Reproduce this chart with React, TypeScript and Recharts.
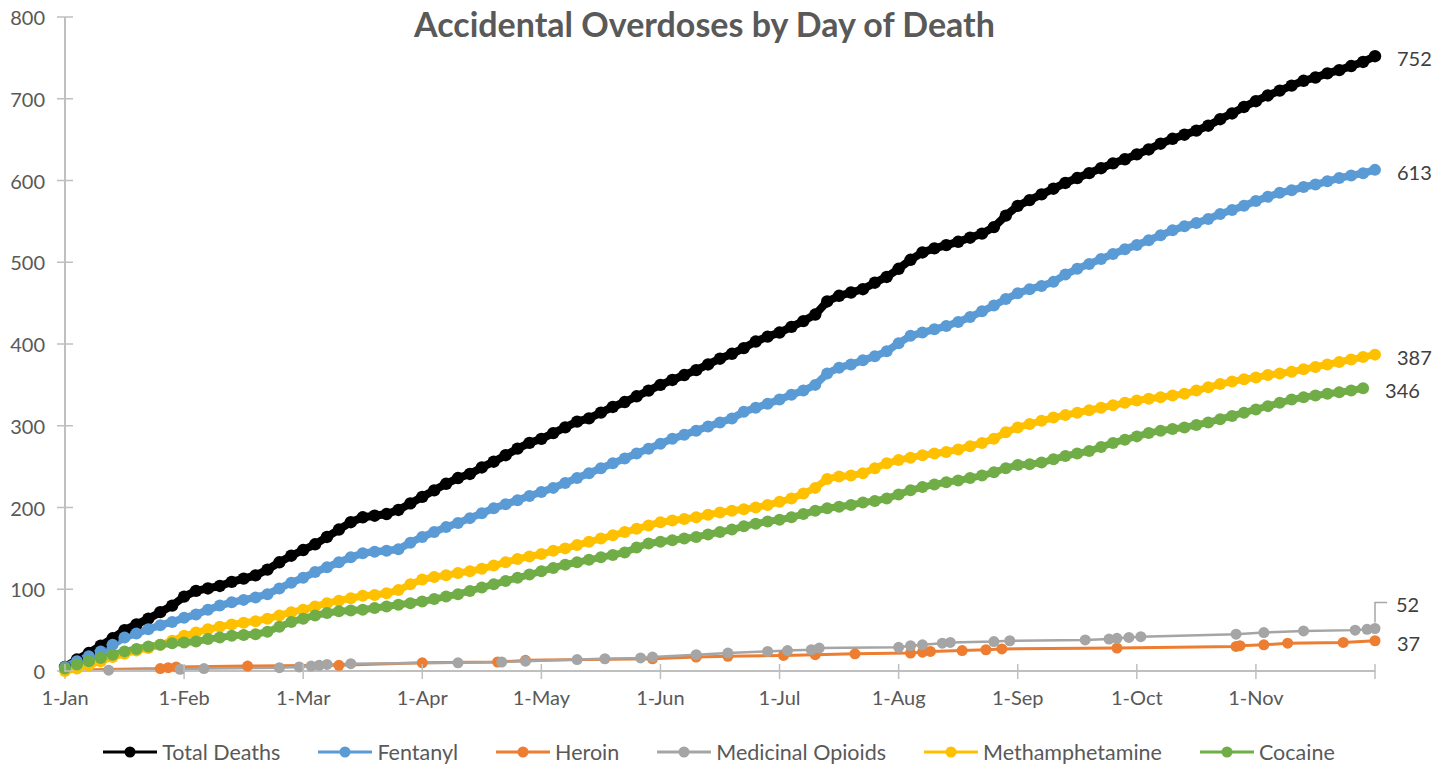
import { LineChart, Line, XAxis, YAxis } from 'recharts';

// Day index along the axis: each month spans 30 units (the axis ticks are evenly spaced).
const monthLabels = ['1-Jan', '1-Feb', '1-Mar', '1-Apr', '1-May', '1-Jun', '1-Jul', '1-Aug', '1-Sep', '1-Oct', '1-Nov', ''];
const monthTicks = [0, 30, 60, 90, 120, 150, 180, 210, 240, 270, 300, 330];
const yTicks = [0, 100, 200, 300, 400, 500, 600, 700, 800];

const sampleDays = [
  0, 3, 6, 9, 12, 15, 18, 21, 24, 27, 30, 33, 36, 39, 42, 45, 48, 51, 54, 57,
  60, 63, 66, 69, 72, 75, 78, 81, 84, 87, 90, 93, 96, 99, 102, 105, 108, 111, 114, 117,
  120, 123, 126, 129, 132, 135, 138, 141, 144, 147, 150, 153, 156, 159, 162, 165, 168, 171, 174, 177,
  180, 183, 186, 189, 192, 195, 198, 201, 204, 207, 210, 213, 216, 219, 222, 225, 228, 231, 234, 237,
  240, 243, 246, 249, 252, 255, 258, 261, 264, 267, 270, 273, 276, 279, 282, 285, 288, 291, 294, 297,
  300, 303, 306, 309, 312, 315, 318, 321, 324, 327, 330,
];

const totalDeaths = [
  5, 14, 22, 31, 40, 50, 57, 64, 72, 80, 91, 98, 101, 104, 109, 113, 117, 124, 133, 141,
  148, 155, 164, 173, 182, 188, 190, 192, 197, 205, 213, 221, 229, 236, 241, 249, 256, 264, 272, 279,
  284, 291, 298, 305, 309, 316, 323, 329, 336, 343, 350, 356, 362, 368, 375, 382, 388, 395, 403, 409,
  414, 421, 428, 436, 452, 459, 463, 467, 475, 482, 492, 503, 512, 517, 521, 525, 530, 535, 543, 557,
  569, 576, 583, 590, 597, 603, 609, 615, 621, 626, 632, 638, 645, 651, 656, 661, 667, 675, 682, 690,
  697, 704, 710, 716, 722, 726, 731, 735, 740, 745, 752,
];

const fentanyl = [
  5, 12, 18, 24, 32, 41, 46, 51, 56, 60, 65, 69, 75, 80, 84, 87, 90, 94, 101, 108,
  114, 121, 127, 133, 139, 144, 146, 147, 149, 157, 164, 170, 176, 181, 187, 193, 199, 204, 209, 214,
  219, 224, 230, 236, 242, 248, 254, 260, 266, 272, 278, 284, 289, 294, 299, 304, 309, 317, 322, 327,
  332, 338, 343, 350, 364, 371, 375, 380, 385, 391, 401, 410, 414, 418, 422, 427, 433, 440, 447, 455,
  462, 467, 471, 476, 485, 492, 498, 504, 510, 516, 521, 527, 533, 539, 544, 548, 553, 559, 564, 569,
  575, 580, 585, 588, 592, 595, 599, 603, 606, 609, 613,
];

const methamphetamine = [
  0, 3, 7, 12, 17, 21, 25, 28, 32, 37, 43, 47, 51, 54, 57, 59, 61, 64, 68, 72,
  75, 79, 83, 86, 89, 92, 93, 95, 99, 106, 112, 115, 117, 120, 122, 125, 129, 133, 137, 140,
  143, 147, 150, 154, 158, 162, 166, 170, 174, 178, 182, 184, 186, 188, 191, 194, 196, 198, 200, 203,
  207, 211, 217, 224, 235, 238, 239, 242, 248, 254, 258, 261, 264, 266, 268, 271, 275, 279, 284, 292,
  298, 302, 306, 310, 313, 316, 319, 322, 325, 328, 331, 333, 335, 337, 339, 343, 347, 351, 354, 357,
  359, 362, 364, 366, 369, 372, 375, 378, 381, 384, 387,
];

// last cocaine death falls a few days before the others
const cocaine = [
  3, 8, 12, 16, 20, 24, 27, 30, 32, 34, 35, 36, 39, 41, 43, 44, 45, 48, 54, 60,
  64, 68, 71, 73, 74, 75, 77, 79, 81, 83, 85, 88, 91, 94, 98, 102, 106, 110, 114, 118,
  122, 126, 130, 133, 136, 139, 142, 145, 151, 156, 158, 160, 162, 164, 167, 170, 173, 177, 180, 183,
  185, 188, 192, 196, 199, 201, 203, 206, 208, 211, 216, 221, 225, 228, 231, 233, 236, 239, 243, 248,
  252, 253, 255, 259, 263, 266, 269, 274, 279, 283, 287, 291, 294, 296, 298, 301, 304, 308, 312, 316,
  320, 324, 328, 332, 335, 337, 339, 341, 343, 346,
];

// sparse series: only days on which the count changed
const heroinDays = [0, 24, 26, 28, 46, 69, 90, 109, 116, 148, 159, 167, 181, 189, 199, 213, 216, 218, 226, 232, 236, 265, 295, 296, 302, 308, 322, 330];
const heroin = [1, 3, 4, 5, 6, 7, 10, 11, 13, 15, 17, 18, 19, 20, 21, 22, 23, 24, 25, 26, 27, 28, 30, 31, 32, 34, 35, 37];

const opioidDays = [11, 29, 35, 54, 59, 62, 64, 66, 72, 99, 110, 116, 129, 136, 145, 148, 159, 167, 177, 182, 188, 190, 210, 213, 216, 221, 223, 234, 238, 257, 263, 265, 268, 271, 295, 302, 312, 325, 328, 330];
const medicinalOpioids = [1, 2, 3, 4, 5, 6, 7, 8, 9, 10, 11, 12, 14, 15, 16, 17, 20, 22, 24, 25, 26, 28, 29, 31, 32, 34, 35, 36, 37, 38, 39, 40, 41, 42, 45, 47, 49, 50, 51, 52];

const FONT = 'Lato, "Open Sans", sans-serif';
const AXIS_GRAY = '#BFBFBF';
const TEXT_GRAY = '#595959';
const TICK = 8;
const TICK_GAP = 12;

const zip = (days: number[], vals: number[]) => vals.map((v, i) => ({ t: days[i], v }));

// dense series get a heavy stroke so the daily markers read as one band, like the original
const series = [
  { name: 'Total Deaths', color: '#000000', r: 6.2, w: 8, data: zip(sampleDays, totalDeaths) },
  { name: 'Fentanyl', color: '#5B9BD5', r: 6, w: 7.5, data: zip(sampleDays, fentanyl) },
  { name: 'Heroin', color: '#ED7D31', r: 5.5, w: 3, data: zip(heroinDays, heroin) },
  { name: 'Medicinal Opioids', color: '#A5A5A5', r: 5.5, w: 2.5, data: zip(opioidDays, medicinalOpioids) },
  { name: 'Methamphetamine', color: '#FFC000', r: 6, w: 7, data: zip(sampleDays, methamphetamine) },
  { name: 'Cocaine', color: '#70AD47', r: 6, w: 7, data: zip(sampleDays, cocaine) },
];

function YTick(props: any) {
  const { x, y, payload } = props;
  const axisX = x + TICK_GAP + TICK;
  return (
    <g>
      <line x1={axisX} x2={axisX + TICK} y1={y} y2={y} stroke={AXIS_GRAY} strokeWidth={1.5} />
      <text x={x} y={y} textAnchor="end" dominantBaseline="central" fill={TEXT_GRAY} fontSize={20} fontFamily={FONT}>
        {payload.value}
      </text>
    </g>
  );
}

function XTick(props: any) {
  const { x, y, index } = props;
  const axisY = y - TICK_GAP + 1 - TICK;
  return (
    <g>
      <line x1={x} x2={x} y1={axisY} y2={axisY - TICK} stroke={AXIS_GRAY} strokeWidth={1.5} />
      <text x={x} y={y} dy="0.71em" textAnchor="middle" fill={TEXT_GRAY} fontSize={20} fontFamily={FONT}>
        {monthLabels[index] ?? ''}
      </text>
    </g>
  );
}

function endLabel(lastIndex: number, leader = false) {
  return (props: any) => {
    const { x, y, index, value } = props;
    if (index !== lastIndex) return <g />;
    if (leader) {
      return (
        <g>
          <polyline points={`${x},${y - 6} ${x},${y - 26} ${x + 12},${y - 26}`} fill="none" stroke="#A6A6A6" strokeWidth={1.5} />
          <text x={x + 21} y={y - 24} dominantBaseline="central" fill="#404040" fontSize={20} fontFamily={FONT}>{value}</text>
        </g>
      );
    }
    return (
      <text x={x + 22} y={y + 2} dominantBaseline="central" fill="#404040" fontSize={20} fontFamily={FONT}>{value}</text>
    );
  };
}

function LegendRow() {
  return (
    <div style={{ position: 'absolute', top: 739, left: 0, width: 1438, display: 'flex', justifyContent: 'center', gap: 38, fontFamily: FONT, fontSize: 21.5, color: TEXT_GRAY }}>
      {series.map((s) => (
        <div key={s.name} style={{ display: 'flex', alignItems: 'center', gap: 5 }}>
          <svg width={54} height={26}>
            <line x1={0} x2={54} y1={13} y2={13} stroke={s.color} strokeWidth={3} />
            <circle cx={27} cy={13} r={5.5} fill={s.color} />
          </svg>
          <span style={{ lineHeight: '26px' }}>{s.name}</span>
        </div>
      ))}
    </div>
  );
}

export default function App() {
  return (
    <div style={{ position: 'absolute', left: 0, top: 0, width: 1450, height: 766, background: '#fff' }}>
      <div style={{ position: 'absolute', top: 2, left: 0, width: 1409, textAlign: 'center', fontFamily: FONT, fontWeight: 700, fontSize: 34, lineHeight: '44px', color: TEXT_GRAY }}>
        Accidental Overdoses by Day of Death
      </div>
      <LineChart width={1450} height={766} margin={{ top: 17, right: 75, left: 15, bottom: 55 }}>
        <XAxis
          dataKey="t"
          type="number"
          domain={[0, 330]}
          ticks={monthTicks}
          interval={0}
          allowDuplicatedCategory={false}
          axisLine={{ stroke: AXIS_GRAY, strokeWidth: 2 }}
          tickLine={{ stroke: AXIS_GRAY, strokeWidth: 1.5 }}
          tickSize={TICK}
          tickMargin={TICK_GAP}
          height={40}
          tick={<XTick />}
        />
        <YAxis
          type="number"
          domain={[0, 800]}
          ticks={yTicks}
          interval={0}
          axisLine={{ stroke: AXIS_GRAY, strokeWidth: 2 }}
          tickLine={{ stroke: AXIS_GRAY, strokeWidth: 1.5 }}
          tickSize={TICK}
          tickMargin={TICK_GAP}
          width={50}
          tick={<YTick />}
        />
        {series.map((s) => (
          <Line
            key={s.name}
            data={s.data}
            dataKey="v"
            name={s.name}
            type="linear"
            stroke={s.color}
            strokeWidth={s.w}
            strokeLinejoin="round"
            dot={{ r: s.r, fill: s.color, stroke: s.color, strokeWidth: 0 }}
            activeDot={false}
            isAnimationActive={false}
            label={endLabel(s.data.length - 1, s.name === 'Medicinal Opioids')}
          />
        ))}
      </LineChart>
      <LegendRow />
    </div>
  );
}
